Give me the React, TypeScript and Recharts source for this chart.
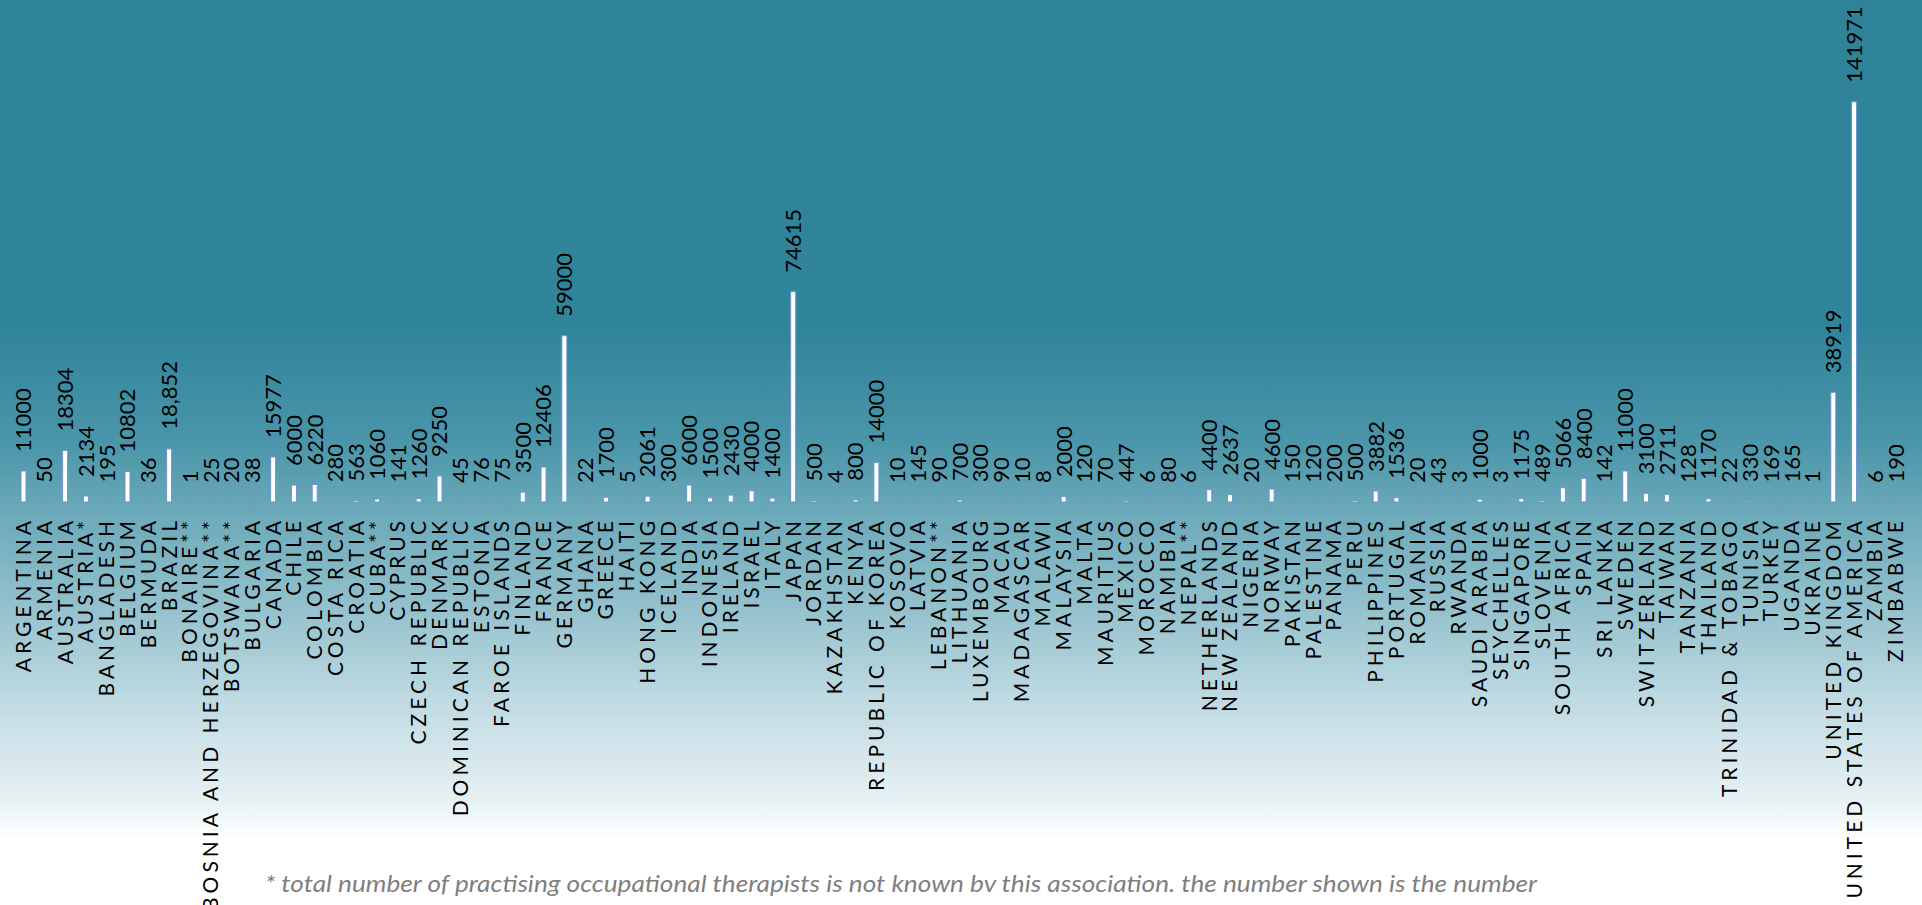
import React from 'react';
import { BarChart, Bar, XAxis, YAxis, LabelList } from 'recharts';

const countries: string[] = [
  'ARGENTINA', 'ARMENIA', 'AUSTRALIA', 'AUSTRIA*', 'BANGLADESH', 'BELGIUM', 'BERMUDA', 'BRAZIL',
  'BONAIRE**', 'BOSNIA AND HERZEGOVINA**', 'BOTSWANA**', 'BULGARIA', 'CANADA', 'CHILE', 'COLOMBIA',
  'COSTA RICA', 'CROATIA', 'CUBA**', 'CYPRUS', 'CZECH REPUBLIC', 'DENMARK', 'DOMINICAN REPUBLIC',
  'ESTONIA', 'FAROE ISLANDS', 'FINLAND', 'FRANCE', 'GERMANY', 'GHANA', 'GREECE', 'HAITI', 'HONG KONG',
  'ICELAND', 'INDIA', 'INDONESIA', 'IRELAND', 'ISRAEL', 'ITALY', 'JAPAN', 'JORDAN', 'KAZAKHSTAN',
  'KENYA', 'REPUBLIC OF KOREA', 'KOSOVO', 'LATVIA', 'LEBANON**', 'LITHUANIA', 'LUXEMBOURG', 'MACAU',
  'MADAGASCAR', 'MALAWI', 'MALAYSIA', 'MALTA', 'MAURITIUS', 'MEXICO', 'MOROCCO', 'NAMIBIA', 'NEPAL**',
  'NETHERLANDS', 'NEW ZEALAND', 'NIGERIA', 'NORWAY', 'PAKISTAN', 'PALESTINE', 'PANAMA', 'PERU',
  'PHILIPPINES', 'PORTUGAL', 'ROMANIA', 'RUSSIA', 'RWANDA', 'SAUDI ARABIA', 'SEYCHELLES', 'SINGAPORE',
  'SLOVENIA', 'SOUTH AFRICA', 'SPAIN', 'SRI LANKA', 'SWEDEN', 'SWITZERLAND', 'TAIWAN', 'TANZANIA',
  'THAILAND', 'TRINIDAD & TOBAGO', 'TUNISIA', 'TURKEY', 'UGANDA', 'UKRAINE', 'UNITED KINGDOM',
  'UNITED STATES OF AMERICA', 'ZAMBIA', 'ZIMBABWE',
];

const therapists: number[] = [
  11000, 50, 18304, 2134, 195, 10802, 36, 18852,
  1, 25, 20, 38, 15977, 6000, 6220,
  280, 563, 1060, 141, 1260, 9250, 45,
  76, 75, 3500, 12406, 59000, 22, 1700, 5, 2061,
  300, 6000, 1500, 2430, 4000, 1400, 74615, 500, 4,
  800, 14000, 10, 145, 90, 700, 300, 90,
  10, 8, 2000, 120, 70, 447, 6, 80, 6,
  4400, 2637, 20, 4600, 150, 120, 200, 500,
  3882, 1536, 20, 43, 3, 1000, 3, 1175,
  489, 5066, 8400, 142, 11000, 3100, 2711, 128,
  1170, 22, 330, 169, 165, 1, 38919,
  141971, 6, 190,
];

const valueLabelOverrides: Record<string, string> = { BRAZIL: '18,852' };

const yDomain: [number, number] = [0, 160000];

const footnote =
  '* total number of practising occupational therapists is not known bv this association. the number shown is the number';

const data = countries.map((country, i) => ({
  country,
  value: therapists[i],
  label: valueLabelOverrides[country] ?? String(therapists[i]),
}));

const FONT = 'Lato, "Open Sans", sans-serif';

const CategoryTick = (props: any) => {
  const { x, y, payload } = props;
  const ty = y + 15;
  return (
    <text
      x={x}
      y={ty}
      transform={`rotate(-90 ${x} ${ty})`}
      textAnchor="end"
      dy="0.36em"
      fontFamily={FONT}
      fontSize={21}
      letterSpacing={4}
      fill="#000000"
    >
      {payload.value}
    </text>
  );
};

const ValueLabel = (props: any) => {
  const { x, y, width, value } = props;
  const cx = Number(x) + Number(width) / 2;
  const ty = Number(y) - 19;
  return (
    <text
      x={cx}
      y={ty}
      transform={`rotate(-90 ${cx} ${ty})`}
      textAnchor="start"
      dy="0.36em"
      fontFamily={FONT}
      fontSize={22}
      fill="#000000"
    >
      {value}
    </text>
  );
};

export default function App() {
  return (
    <div
      style={{
        position: 'absolute',
        left: 0,
        top: 0,
        width: 1922,
        height: 905,
        overflow: 'hidden',
        background:
          'linear-gradient(to bottom, #2e8399 0px, #30859b 330px, #4a95a9 440px, #66a6b7 502px, #90bfcb 600px, #bfdae2 700px, #e7f1f4 800px, #ffffff 840px, #ffffff 905px)',
      }}
    >
      <BarChart
        width={1922}
        height={905}
        data={data}
        margin={{ top: 51, right: 16, left: 13, bottom: 0 }}
      >
        <YAxis hide domain={yDomain} type="number" />
        <XAxis
          dataKey="country"
          interval={0}
          axisLine={false}
          tickLine={false}
          tickSize={0}
          tickMargin={0}
          height={403}
          tick={<CategoryTick />}
        />
        <Bar
          dataKey="value"
          fill="#ffffff"
          stroke="#6f93d3"
          strokeWidth={1}
          barSize={5}
          isAnimationActive={false}
        >
          <LabelList dataKey="label" content={<ValueLabel />} />
        </Bar>
      </BarChart>
      <svg
        width={1922}
        height={905}
        style={{ position: 'absolute', left: 0, top: 0, pointerEvents: 'none' }}
      >
        <text
          x={265}
          y={892}
          fontFamily={FONT}
          fontStyle="italic"
          fontSize={23}
          fill="#7f7f7f"
          textLength={1272}
          lengthAdjust="spacingAndGlyphs"
        >
          {footnote}
        </text>
      </svg>
    </div>
  );
}
